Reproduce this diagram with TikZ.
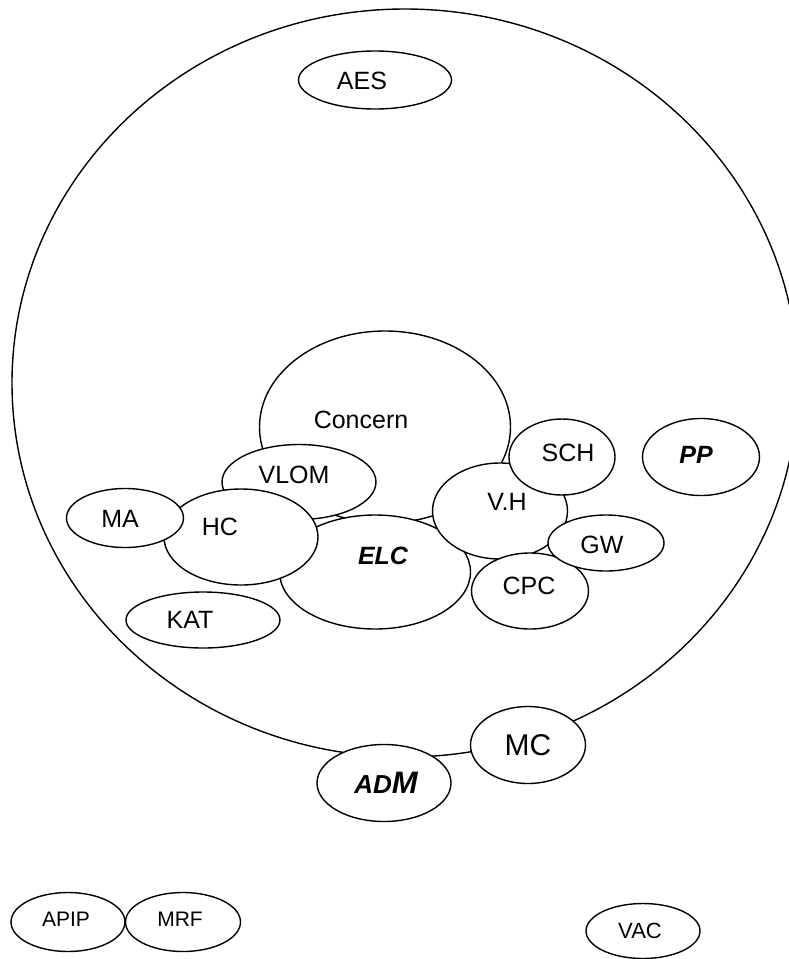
\documentclass[tikz,border=0pt]{standalone}
\usepackage{fontspec}
\setmainfont{Liberation Sans}
\usepackage{tikz}
\usetikzlibrary{shapes.geometric}

\begin{document}
\begin{tikzpicture}[x=1pt, y=-1pt,
    blob/.style={ellipse, draw, fill=white, line width=1.4pt, inner sep=0pt},
    tag/.style={font=\fontsize{25}{30}\selectfont, inner sep=0pt},
    btag/.style={tag, font=\fontsize{25}{30}\selectfont\bfseries\itshape},
    stag/.style={tag, font=\fontsize{21}{25}\selectfont}]
    \useasboundingbox (0,0) rectangle (789,959);
    \clip (0,0) rectangle (789,959);

    % the big outer circle
    \node[blob, minimum width=786pt, minimum height=748pt] (world) at (405,383) {};

    \node[blob, minimum width=153pt, minimum height=58pt] (aes) at (375,80) {};
    \node[tag] (aestext) at (362,81) {AES};

    % the middle cluster
    \node[blob, minimum width=251pt, minimum height=192pt] (concern) at (385,427) {};
    \node[tag] (concerntext) at (361,420) {Concern};
    \node[blob, minimum width=154pt, minimum height=75pt] (vlom) at (299,482) {};
    \node[tag] (vlomtext) at (294,475) {VLOM};
    \node[blob, minimum width=191pt, minimum height=114pt] (elc) at (375,572) {};
    \node[btag] (elctext) at (383,556) {ELC};
    \node[blob, minimum width=154pt, minimum height=96pt] (hc) at (241,537) {};
    \node[tag] (hctext) at (220,527) {HC};
    \node[blob, minimum width=117pt, minimum height=59pt] (ma) at (125,518) {};
    \node[tag] (matext) at (120,519) {MA};
    \node[blob, minimum width=154pt, minimum height=56pt] (kat) at (203,620) {};
    \node[tag] (kattext) at (190,620) {KAT};
    \node[blob, minimum width=135pt, minimum height=96pt] (vh) at (500,511) {};
    \node[tag] (vhtext) at (507,502) {V.H};
    \node[blob, minimum width=106pt, minimum height=76pt] (sch) at (562,457) {};
    \node[tag] (schtext) at (568,453) {SCH};
    \node[blob, minimum width=117pt, minimum height=76pt] (cpc) at (530,591) {};
    \node[tag] (cpctext) at (529,586) {CPC};
    \node[blob, minimum width=116pt, minimum height=56pt] (gw) at (606,543) {};
    \node[tag] (gwtext) at (602,545) {GW};
    \node[blob, minimum width=117pt, minimum height=77pt] (pp) at (701,457) {};
    \node[btag] (pptext) at (696,455) {PP};

    % on the rim
    \node[blob, minimum width=134pt, minimum height=77pt] (adm) at (384,783) {};
    \node[tag, font=\bfseries\itshape] (admtext) at (386,783)
        {\fontsize{26}{30}\selectfont AD\fontsize{31}{35}\selectfont M};
    \node[blob, minimum width=115pt, minimum height=77pt] (mc) at (528,745) {};
    \node[tag, font=\fontsize{30}{34}\selectfont] (mctext) at (528,745) {MC};

    % outside
    \node[blob, minimum width=114pt, minimum height=59pt] (apip) at (68,922) {};
    \node[stag] (apiptext) at (66,919) {APIP};
    \node[blob, minimum width=115pt, minimum height=59pt] (mrf) at (183,922) {};
    \node[stag] (mrftext) at (180,919) {MRF};
    \node[blob, minimum width=114pt, minimum height=55pt] (vac) at (643,931) {};
    \node[stag, font=\fontsize{22}{26}\selectfont] (vactext) at (640,931) {VAC};
\end{tikzpicture}
\end{document}
